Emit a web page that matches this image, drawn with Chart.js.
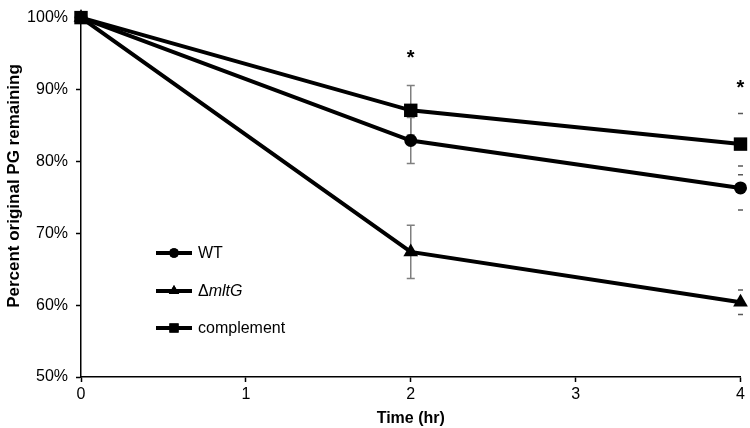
<!DOCTYPE html>
<html>
<head>
<meta charset="utf-8">
<script src="https://cdn.jsdelivr.net/npm/chart.js@4/dist/chart.umd.min.js"></script>
<style>
  html, body { margin: 0; padding: 0; background: #fff; }
  #wrap { width: 750px; height: 428px; }
</style>
</head>
<body>
<div id="wrap"><canvas id="pg-chart" width="750" height="428"></canvas></div>
<script>
// Time points (hr) and tick labels
const timePoints = [0, 2, 4];
const yTicks = [50, 60, 70, 80, 90, 100];

// Series values (% original PG remaining) and their error bars
const wtValues = [100, 82.9, 76.3];
const wtErrors = [0, 3.2, 3.05];
const mltGValues = [100, 67.4, 60.4];
const mltGErrors = [0, 3.7, 1.7];
const complementValues = [100, 87.1, 82.4];
const complementErrors = [0, 3.45, 4.25];

// error bar stems are only visible at 2 hr in the original
const stemShown = [false, true, false];

// significance markers
const starTimes = [2, 4];
const starValues = [94.9, 90.7];

const FONT = '"Liberation Sans", Arial, sans-serif';

const toPoints = (vals) => vals.map((v, i) => ({ x: timePoints[i], y: v }));

// Draws error bars under the lines, stars and the y title on top
const errorBarPlugin = {
  id: 'errorBars',
  beforeDatasetsDraw(chart) {
    const { ctx, scales: { x, y } } = chart;
    ctx.save();
    chart.data.datasets.forEach((ds) => {
      ds.errors.forEach((err, i) => {
        if (!err) return;
        const px = x.getPixelForValue(timePoints[i]);
        const top = y.getPixelForValue(ds.data[i].y + err);
        const bot = y.getPixelForValue(ds.data[i].y - err);
        const cap = stemShown[i] ? 4 : 2.5;
        ctx.strokeStyle = stemShown[i] ? '#7f7f7f' : '#595959';
        ctx.lineWidth = 1.5;
        ctx.beginPath();
        if (stemShown[i]) {
          ctx.moveTo(px, top);
          ctx.lineTo(px, bot);
        }
        ctx.moveTo(px - cap, top);
        ctx.lineTo(px + cap, top);
        ctx.moveTo(px - cap, bot);
        ctx.lineTo(px + cap, bot);
        ctx.stroke();
      });
    });
    ctx.restore();
  },
  afterDatasetsDraw(chart) {
    const { ctx, scales: { x, y } } = chart;
    ctx.save();
    ctx.fillStyle = '#000';
    ctx.font = 'bold 20px ' + FONT;
    ctx.textAlign = 'center';
    ctx.textBaseline = 'middle';
    starTimes.forEach((t, i) => {
      ctx.fillText('*', x.getPixelForValue(t), y.getPixelForValue(starValues[i]) + 4);
    });
    // y axis title, placed a bit above the axis centre like the original
    ctx.translate(14, 186);
    ctx.rotate(-Math.PI / 2);
    ctx.font = 'bold 17px ' + FONT;
    ctx.fillText('Percent original PG remaining', 0, 0);
    ctx.restore();
  }
};

// Legend drawn inside the plot, with italic gene name
const legendPlugin = {
  id: 'insideLegend',
  afterDraw(chart) {
    const { ctx } = chart;
    const rows = [253, 291, 328];
    ctx.save();
    chart.data.datasets.forEach((ds, i) => {
      const yy = rows[i];
      ctx.strokeStyle = '#000';
      ctx.lineWidth = 4;
      ctx.beginPath();
      ctx.moveTo(156, yy);
      ctx.lineTo(192, yy);
      ctx.stroke();
      ctx.fillStyle = '#000';
      Chart.helpers.drawPoint(ctx, {
        pointStyle: ds.pointStyle, radius: ds.legendRadius, rotation: 0, borderWidth: 0
      }, 174, yy);
      ctx.fill();
      ctx.textBaseline = 'middle';
      ctx.textAlign = 'left';
      let tx = 198;
      ds.labelParts.forEach((part) => {
        ctx.font = (part.italic ? 'italic ' : '') + '16px ' + FONT;
        ctx.fillText(part.text, tx, yy + 1);
        tx += ctx.measureText(part.text).width;
      });
    });
    ctx.restore();
  }
};

const makeSet = (label, labelParts, values, errors, style, radius, legendRadius, order) => ({
  label,
  labelParts,
  legendRadius,
  data: toPoints(values),
  errors,
  borderColor: '#000',
  backgroundColor: '#000',
  borderWidth: 4,
  pointStyle: style,
  pointRadius: radius,
  pointBorderWidth: 0,
  pointBackgroundColor: '#000',
  tension: 0,
  clip: false,
  order
});

new Chart(document.getElementById('pg-chart'), {
  type: 'line',
  data: {
    datasets: [
      makeSet('WT', [{ text: 'WT' }], wtValues, wtErrors, 'circle', 6.5, 4.8, 2),
      makeSet('\u0394mltG', [{ text: '\u0394' }, { text: 'mltG', italic: true }], mltGValues, mltGErrors, 'triangle', 8.5, 6, 3),
      makeSet('complement', [{ text: 'complement' }], complementValues, complementErrors, 'rect', 9.5, 6.5, 1)
    ]
  },
  options: {
    responsive: false,
    animation: false,
    layout: { padding: { top: 10, right: 9, left: 0, bottom: 0 } },
    plugins: { legend: { display: false }, tooltip: { enabled: false } },
    scales: {
      x: {
        type: 'linear',
        min: 0,
        max: 4,
        afterFit: (s) => { s.height = 51; },
        ticks: { stepSize: 1, color: '#000', font: { family: FONT, size: 16 }, padding: 3 },
        grid: { drawOnChartArea: false, color: '#000', tickLength: 5, tickWidth: 1.5 },
        border: { color: '#000', width: 1.5 },
        title: {
          display: true, text: 'Time (hr)', color: '#000',
          font: { family: FONT, size: 16, weight: 'bold' }, padding: { top: 1, bottom: 0 }
        }
      },
      y: {
        min: 50,
        max: 100,
        afterFit: (s) => { s.width = 81; },
        afterBuildTicks: (s) => { s.ticks = yTicks.map((v) => ({ value: v })); },
        ticks: {
          color: '#000', padding: 8,
          font: { family: FONT, size: 16 },
          callback: (v) => v + '%'
        },
        grid: { drawOnChartArea: false, color: '#000', tickLength: 5, tickWidth: 1.5 },
        border: { color: '#000', width: 1.5 }
      }
    }
  },
  plugins: [errorBarPlugin, legendPlugin]
});
</script>
</body>
</html>
